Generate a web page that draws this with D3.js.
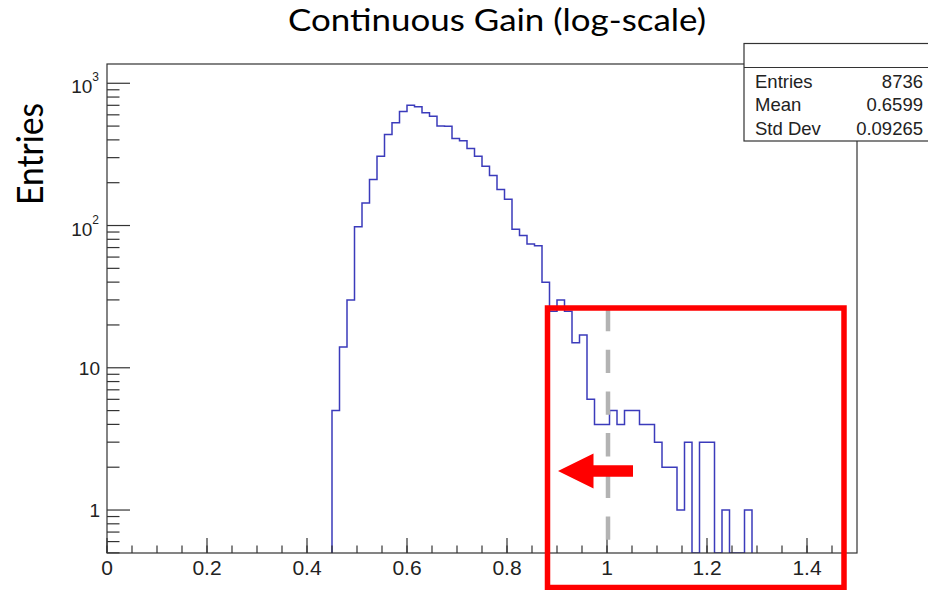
<!DOCTYPE html>
<html>
<head>
<meta charset="utf-8">
<script src="https://cdn.jsdelivr.net/npm/d3@7"></script>
<style>
  html, body { margin: 0; padding: 0; background: #fff; }
  svg { display: block; }
</style>
</head>
<body>
<svg id="chart" width="928" height="590"></svg>
<script>
// Histogram: 100 bins of width 0.015 on [0, 1.5]; only the filled range is listed.
const binLowEdges = [
  0.450, 0.465, 0.480, 0.495, 0.510, 0.525, 0.540, 0.555, 0.570, 0.585,
  0.600, 0.615, 0.630, 0.645, 0.660, 0.675, 0.690, 0.705, 0.720, 0.735,
  0.750, 0.765, 0.780, 0.795, 0.810, 0.825, 0.840, 0.855, 0.870, 0.885,
  0.900, 0.915, 0.930, 0.945, 0.960, 0.975, 0.990, 1.005, 1.020, 1.035,
  1.050, 1.065, 1.080, 1.095, 1.110, 1.125, 1.140, 1.155, 1.170, 1.185,
  1.200, 1.215, 1.230, 1.245, 1.260, 1.275
];
const binCounts = [
  5, 14, 30, 98, 144, 211, 307, 437, 527, 634,
  702, 683, 620, 587, 500, 498, 409, 394, 348, 307,
  261, 225, 179, 153, 94, 85, 74, 72, 40, 25,
  30, 25, 15, 17, 6, 4, 4, 5, 4, 5,
  5, 4, 4, 3, 2, 2, 1, 3, 0, 3,
  3, 0, 1, 0, 0, 1
];
const binWidth = 0.015;

const xTickValues = [0, 0.2, 0.4, 0.6, 0.8, 1.0, 1.2, 1.4];
const xTickLabels = ["0", "0.2", "0.4", "0.6", "0.8", "1", "1.2", "1.4"];
const yTickValues = [1, 10, 100, 1000];
const yTickBase = ["1", "10", "10", "10"];
const yTickExp = ["", "", "2", "3"];

const statLabels = ["Entries", "Mean", "Std Dev"];
const statValues = ["8736", "0.6599", "0.09265"];

const titleText = "Continuous Gain (log-scale)";
const yTitleText = "Entries";

// Highlighted region and reference cut
const cutValue = 1.0;
const boxRange = [0.881, 1.474];

// ---- layout ----
const svg = d3.select("#chart");
const frame = { left: 107, right: 857, top: 64, bottom: 553 };

const x = d3.scaleLinear().domain([0, 1.5]).range([frame.left, frame.right]);
const y = d3.scaleLog().domain([0.4988, 1366]).range([frame.bottom, frame.top]);

const axisFont = "'Liberation Sans', Arial, Helvetica, sans-serif";
const slideFont = "Lato, 'Open Sans', 'Noto Sans', sans-serif";
const axisColor = "#333";

// Title and y-axis title
svg.append("text")
  .attr("x", 497).attr("y", 30.5)
  .attr("text-anchor", "middle")
  .attr("font-family", slideFont).attr("font-size", 30)
  .attr("textLength", 418).attr("lengthAdjust", "spacingAndGlyphs")
  .attr("fill", "#000")
  .text(titleText);

svg.append("text")
  .attr("transform", "translate(43,154) rotate(-90)")
  .attr("text-anchor", "middle")
  .attr("font-family", slideFont).attr("font-size", 36)
  .attr("textLength", 102).attr("lengthAdjust", "spacingAndGlyphs")
  .attr("fill", "#000")
  .text(yTitleText);

// Clip for histogram
svg.append("defs").append("clipPath").attr("id", "plotClip")
  .append("rect")
  .attr("x", frame.left).attr("y", frame.top)
  .attr("width", frame.right - frame.left).attr("height", frame.bottom - frame.top);

// Step outline of the histogram; empty bins sit on the lower edge
const levelY = c => c > 0 ? y(c) : frame.bottom;
const path = d3.path();
path.moveTo(x(binLowEdges[0]), frame.bottom);
binLowEdges.forEach((lo, i) => {
  const yy = levelY(binCounts[i]);
  path.lineTo(x(lo), yy);
  path.lineTo(x(lo + binWidth), yy);
});
path.lineTo(x(binLowEdges[binLowEdges.length - 1] + binWidth), frame.bottom);

svg.append("path")
  .attr("d", path.toString())
  .attr("clip-path", "url(#plotClip)")
  .attr("fill", "none")
  .attr("stroke", "#3b3bbb")
  .attr("stroke-width", 1.5);

// Frame
svg.append("rect")
  .attr("x", frame.left).attr("y", frame.top)
  .attr("width", frame.right - frame.left).attr("height", frame.bottom - frame.top)
  .attr("fill", "none").attr("stroke", axisColor).attr("stroke-width", 1.2);

// X axis ticks: major every 0.2, minor every 0.05
const xAxisG = svg.append("g");
const xMinor = d3.range(0, 30).map(i => i * 0.05).filter(v => v <= 1.5);
xAxisG.selectAll("line.minor").data(xMinor).join("line")
  .attr("x1", d => x(d)).attr("x2", d => x(d))
  .attr("y1", frame.bottom).attr("y2", frame.bottom - 7.5)
  .attr("stroke", axisColor).attr("stroke-width", 1.2);
xAxisG.selectAll("line.major").data(xTickValues).join("line")
  .attr("x1", d => x(d)).attr("x2", d => x(d))
  .attr("y1", frame.bottom).attr("y2", frame.bottom - 15)
  .attr("stroke", axisColor).attr("stroke-width", 1.2);
xAxisG.selectAll("text").data(xTickValues).join("text")
  .attr("x", d => x(d)).attr("y", 575)
  .attr("text-anchor", "middle")
  .attr("font-family", axisFont).attr("font-size", 21)
  .attr("fill", "#222")
  .text((d, i) => xTickLabels[i]);

// Y axis ticks (log): major at decades, minor at 2..9 multiples
const yAxisG = svg.append("g");
const yMinor = [];
[0.1, 1, 10, 100].forEach(dec => {
  for (let m = 2; m <= 9; m++) {
    const v = dec * m;
    if (v >= y.domain()[0] && v <= y.domain()[1]) yMinor.push(v);
  }
});
yAxisG.selectAll("line.minor").data(yMinor).join("line")
  .attr("x1", frame.left).attr("x2", frame.left + 12.5)
  .attr("y1", d => y(d)).attr("y2", d => y(d))
  .attr("stroke", axisColor).attr("stroke-width", 1.2);
yAxisG.selectAll("line.major").data(yTickValues).join("line")
  .attr("x1", frame.left).attr("x2", frame.left + 23)
  .attr("y1", d => y(d)).attr("y2", d => y(d))
  .attr("stroke", axisColor).attr("stroke-width", 1.2);

yTickValues.forEach((v, i) => {
  const ty = y(v);
  if (yTickExp[i]) {
    const t = yAxisG.append("text")
      .attr("x", 99).attr("y", ty + 10)
      .attr("text-anchor", "end")
      .attr("font-family", axisFont).attr("font-size", 19)
      .attr("fill", "#222");
    t.append("tspan").text(yTickBase[i]);
    t.append("tspan").attr("font-size", 12).attr("dy", -12).text(yTickExp[i]);
  } else {
    yAxisG.append("text")
      .attr("x", 100).attr("y", ty + 7)
      .attr("text-anchor", "end")
      .attr("font-family", axisFont).attr("font-size", 19)
      .attr("fill", "#222")
      .text(yTickBase[i]);
  }
});

// Statistics box
const stats = svg.append("g");
stats.append("rect")
  .attr("x", 744).attr("y", 43.5).attr("width", 200).attr("height", 97.5)
  .attr("fill", "#fff").attr("stroke", axisColor).attr("stroke-width", 1.2);
stats.append("line")
  .attr("x1", 744).attr("x2", 944).attr("y1", 67.5).attr("y2", 67.5)
  .attr("stroke", axisColor).attr("stroke-width", 1.2);
statLabels.forEach((lab, i) => {
  const by = 87.5 + i * 23.5;
  stats.append("text")
    .attr("x", 755).attr("y", by)
    .attr("font-family", axisFont).attr("font-size", 18.5)
    .attr("fill", "#222").text(lab);
  stats.append("text")
    .attr("x", 923).attr("y", by).attr("text-anchor", "end")
    .attr("font-family", axisFont).attr("font-size", 18.5)
    .attr("fill", "#222").text(statValues[i]);
});

// Dashed reference line at the cut value
svg.append("line")
  .attr("x1", x(cutValue) + 1).attr("x2", x(cutValue) + 1)
  .attr("y1", 308).attr("y2", 542)
  .attr("stroke", "#b3b3b3").attr("stroke-width", 4.5)
  .attr("stroke-dasharray", "23.3 18.4");

// Highlight box over the tail
svg.append("rect")
  .attr("x", x(boxRange[0])).attr("y", 308)
  .attr("width", x(boxRange[1]) - x(boxRange[0])).attr("height", 279.5)
  .attr("fill", "none").attr("stroke", "#ff0000").attr("stroke-width", 5.5);

// Arrow pointing left
const arrow = d3.path();
arrow.moveTo(558, 471);
arrow.lineTo(593.5, 453.5);
arrow.lineTo(593.5, 465.3);
arrow.lineTo(633, 465.3);
arrow.lineTo(633, 476.7);
arrow.lineTo(593.5, 476.7);
arrow.lineTo(593.5, 488.5);
arrow.closePath();
svg.append("path").attr("d", arrow.toString()).attr("fill", "#ff0000");
</script>
</body>
</html>
